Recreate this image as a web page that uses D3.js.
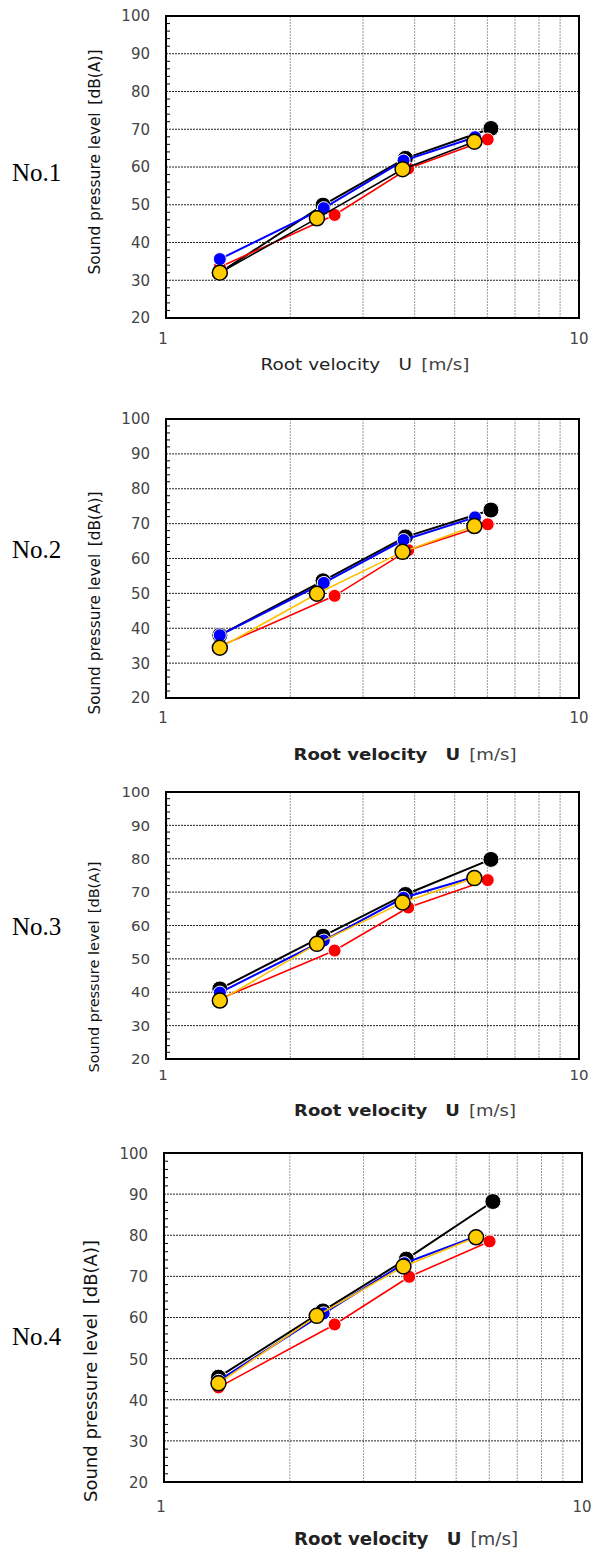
<!DOCTYPE html>
<html><head><meta charset="utf-8">
<script src="https://cdn.jsdelivr.net/npm/d3@7"></script>
<style>body{margin:0;background:#fff}svg{display:block}</style>
</head><body>
<script>
// ---- data ----
const panelNames = ["No.1", "No.2", "No.3", "No.4"];
const xTickLabels = [1, 10];
const yTickLabels = [20, 30, 40, 50, 60, 70, 80, 90, 100];
// root velocity U [m/s] per series
const uBlack  = [1.35, 2.40, 3.80, 6.12];
const uRed    = [1.35, 2.56, 3.86, 6.01];
const uBlue   = [1.35, 2.41, 3.76, 5.60];
const uYellow = [1.35, 2.32, 3.74, 5.58];
// sound pressure level dB(A), per panel
const splBlack  = [[32.0, 49.9, 62.3, 70.2], [38.0, 53.6, 66.2, 73.9], [41.0, 56.8, 69.3, 79.8], [45.5, 61.6, 74.2, 88.2]];
const splRed    = [[33.5, 47.3, 59.6, 67.3], [34.8, 49.3, 62.4, 69.8], [38.0, 52.5, 65.4, 73.6], [43.0, 58.3, 69.9, 78.5]];
const splBlue   = [[35.6, 49.1, 61.7, 67.9], [38.0, 53.0, 65.3, 71.8], [39.9, 55.5, 68.3, 74.6], [44.6, 61.0, 73.2, 79.8]];
const splYellow = [[32.0, 46.4, 59.4, 66.7], [34.4, 49.9, 61.9, 69.3], [37.5, 54.5, 66.9, 74.2], [44.0, 60.4, 72.4, 79.5]];

// ---- layout ----
const W = 596, H = 1553;
const layouts = [
  {left:166, right:579, top:16,   bottom:318,  xlabY:339,  titleY:365,  titleX:365, titleLen:209, titleFs:15, noY:172,  ylabX:95, ylabCY:162,  ylabLen:225, ylabFs:15, sy:1.0,  boldTitle:false},
  {left:166, right:579, top:419,  bottom:698,  xlabY:718,  titleY:755,  titleX:405, titleLen:223, titleFs:15, noY:549,  ylabX:95, ylabCY:603,  ylabLen:223, ylabFs:15, sy:1.0,  boldTitle:true},
  {left:166, right:579, top:792,  bottom:1059, xlabY:1075, titleY:1111, titleX:405, titleLen:222, titleFs:15, noY:926,  ylabX:94, ylabCY:967,  ylabLen:211, ylabFs:14.5, sy:0.95, boldTitle:true},
  {left:164, right:582, top:1153, bottom:1482, xlabY:1506, titleY:1539, titleX:406, titleLen:224, titleFs:17, noY:1336, ylabX:91, ylabCY:1371, ylabLen:262, ylabFs:17, sy:1.1,  boldTitle:true}
];
const font = "'DejaVu Sans', 'Noto Sans', sans-serif";

const svg = d3.select("body").append("svg").attr("width", W).attr("height", H);

panelNames.forEach((name, p) => {
  const L = layouts[p];
  const x = d3.scaleLog().domain([1, 10]).range([L.left, L.right]);
  const y = d3.scaleLinear().domain([20, 100]).range([L.bottom, L.top]);
  const g = svg.append("g");

  // vertical grid (2..9)
  g.selectAll(".vg").data(d3.range(2, 10)).enter().append("line")
    .attr("x1", d => x(d)).attr("x2", d => x(d))
    .attr("y1", L.top).attr("y2", L.bottom)
    .attr("stroke", "#9a9a9a").attr("stroke-width", 1).attr("stroke-dasharray", "2,1");
  // horizontal grid
  g.selectAll(".hg").data(d3.range(30, 100, 10)).enter().append("line")
    .attr("x1", L.left).attr("x2", L.right)
    .attr("y1", d => y(d)).attr("y2", d => y(d))
    .attr("stroke", "#222").attr("stroke-width", 1).attr("stroke-dasharray", "2,1");
  // minor y ticks (inside)
  g.selectAll(".mt").data(d3.range(22, 100, 2).filter(d => d % 10 !== 0)).enter().append("line")
    .attr("x1", L.left).attr("x2", L.left + 4)
    .attr("y1", d => y(d)).attr("y2", d => y(d))
    .attr("stroke", "#000").attr("stroke-width", 1);
  // frame
  g.append("rect").attr("x", L.left).attr("y", L.top)
    .attr("width", L.right - L.left).attr("height", L.bottom - L.top)
    .attr("fill", "none").attr("stroke", "#000").attr("stroke-width", 2);

  // y tick labels
  g.selectAll(".yl").data(yTickLabels).enter().append("text")
    .attr("transform", d => `translate(${L.left - 16},${y(d)}) scale(1,${L.sy})`)
    .attr("text-anchor", "end").attr("dy", "0.36em")
    .attr("font-family", font).attr("font-size", 15).attr("fill", "#444")
    .text(d => d);
  // x tick labels
  g.selectAll(".xl").data(xTickLabels).enter().append("text")
    .attr("transform", d => `translate(${x(d) - (d === 1 ? 3 : 0)},${L.xlabY}) scale(1,${L.sy})`)
    .attr("text-anchor", "middle").attr("dy", "0.36em")
    .attr("font-family", font).attr("font-size", 15).attr("fill", "#444")
    .text(d => d);

  // x axis title
  const t = g.append("text")
    .attr("transform", `translate(${L.titleX},${L.titleY})`)
    .attr("text-anchor", "middle").attr("dy", "0.36em")
    .attr("font-family", font).attr("font-size", L.titleFs).attr("fill", "#222")
    .attr("textLength", L.titleLen).attr("lengthAdjust", "spacingAndGlyphs");
  t.append("tspan").attr("font-weight", L.boldTitle ? "bold" : "normal").text("Root velocity\u2003U");
  t.append("tspan").attr("font-weight", "normal").attr("fill", "#444").text("\u2002[m/s]");

  // y axis title
  g.append("text")
    .attr("transform", `translate(${L.ylabX},${L.ylabCY}) rotate(-90)`)
    .attr("text-anchor", "middle").attr("dy", "0.36em")
    .attr("font-family", font).attr("font-size", L.ylabFs).attr("fill", "#111")
    .attr("textLength", L.ylabLen).attr("lengthAdjust", "spacingAndGlyphs")
    .text("Sound pressure level\u2002[dB(A)]");

  // panel label
  g.append("text").attr("x", 12).attr("y", L.noY).attr("dy", "0.36em")
    .attr("font-family", "'Liberation Serif', 'Times New Roman', serif")
    .attr("font-size", 25).attr("fill", "#000").text(name);

  // series
  const series = [
    {u: uBlack,  v: splBlack[p],  line: "#000",    lw: 2,   fill: "#000",    r: 8,   stroke: "#fff", sw: 1},
    {u: uRed,    v: splRed[p],    line: "#ff0000", lw: 1.6, fill: "#ff0000", r: 6.5, stroke: "#fff", sw: 1},
    {u: uBlue,   v: splBlue[p],   line: "#0000ff", lw: 2,   fill: "#0000ff", r: 6.5, stroke: "#fff", sw: 1},
    {u: uYellow, v: splYellow[p], line: p === 0 ? "#000" : "#ffc000", lw: 1.6, fill: "#ffcc00", r: 7.5, stroke: "#000", sw: 1.5}
  ];
  const lineGen = d3.line().x(d => x(d[0])).y(d => y(d[1]));
  series.forEach(s => {
    const pts = s.u.map((u, i) => [u, s.v[i]]);
    g.append("path").datum(pts).attr("d", lineGen)
      .attr("fill", "none").attr("stroke", s.line).attr("stroke-width", s.lw);
    g.selectAll(null).data(pts).enter().append("circle")
      .attr("cx", d => x(d[0])).attr("cy", d => y(d[1])).attr("r", s.r)
      .attr("fill", s.fill).attr("stroke", s.stroke).attr("stroke-width", s.sw);
  });
});
</script>
</body></html>
